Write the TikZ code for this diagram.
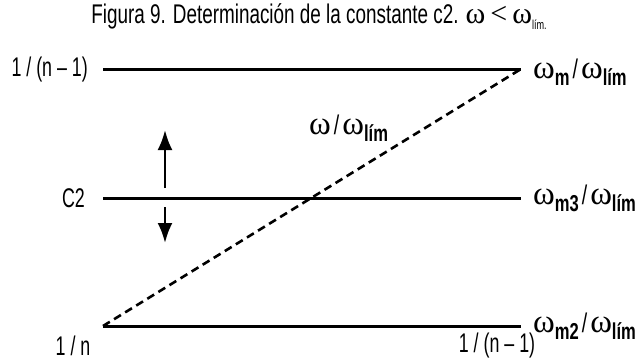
\documentclass[tikz,border=0pt]{standalone}
\usepackage{fontspec}
\setmainfont{Liberation Sans}[FakeStretch=0.72]
\newfontfamily\condf{Liberation Sans}[FakeStretch=0.72]
\newfontfamily\titf{Liberation Sans}[FakeStretch=0.70]
\newfontfamily\narf{Liberation Sans}[FakeStretch=0.66]
\newfontfamily\serf{Liberation Serif}
\usetikzlibrary{arrows.meta}
\newcommand{\omsym}{{\serf\fontsize{33}{33}\selectfont ω}}
\newcommand{\omsub}[1]{\raisebox{-7pt}{\condf\fontsize{23}{23}\selectfont\bfseries #1}}
\newcommand{\ratio}[1]{\omsym\omsub{#1}\hspace{3pt}{\condf\fontsize{27}{27}\selectfont /}\hspace{3pt}\omsym\omsub{lím}}
\begin{document}
\begin{tikzpicture}[x=1pt,y=-1pt,
  lvl/.style={line width=3pt},
  dsh/.style={line width=2.6pt,dash pattern=on 8pt off 5pt},
  arr/.style={line width=2.6pt,-{Latex[length=20pt,width=15pt]}},
  lab/.style={inner sep=0pt,font=\narf\fontsize{27}{27}\selectfont},
  rlab/.style={inner sep=0pt,anchor=west}]
\useasboundingbox (0,0) rectangle (639,362);
% title
\node[inner sep=0pt,font=\titf\fontsize{27}{27}\selectfont] (title) at (319,17) {Figura 9. Determinación de la constante c2. {\serf\fontsize{30}{30}\selectfont ω\,<\,ω}\raisebox{-6pt}{\fontsize{13}{13}\selectfont lím.}};
% level lines
\coordinate (tl) at (103,69);
\coordinate (tr) at (521,69);
\coordinate (ml) at (103,198);
\coordinate (mr) at (521,198);
\coordinate (bl) at (103,326);
\coordinate (br) at (521,326);
\draw[lvl] (tl) -- (tr);
\draw[lvl] (ml) -- (mr);
\draw[lvl] (bl) -- (br);
\draw[dsh] (bl) -- (tr);
% arrows
\coordinate (ua) at (165,188);
\coordinate (ub) at (165,130);
\coordinate (da) at (165,207);
\coordinate (db) at (165,243);
\draw[arr] (ua) -- (ub);
\draw[arr] (da) -- (db);
% left labels
\node[lab,anchor=east] (l1) at (88,70) {1 / (n – 1)};
\node[lab,anchor=east] (l2) at (85,198) {C2};
\node[lab] (l3) at (73,346) {1 / n};
\node[lab] (l4) at (497,346) {1 / (n – 1)};
% right labels
\node[rlab] (r1) at (533,72) {\ratio{m}};
\node[rlab] (r2) at (533,198) {\ratio{m3}};
\node[rlab] (r3) at (533,326) {\ratio{m2}};
\node[rlab] (mid) at (309,128) {\ratio{}};
\end{tikzpicture}
\end{document}
